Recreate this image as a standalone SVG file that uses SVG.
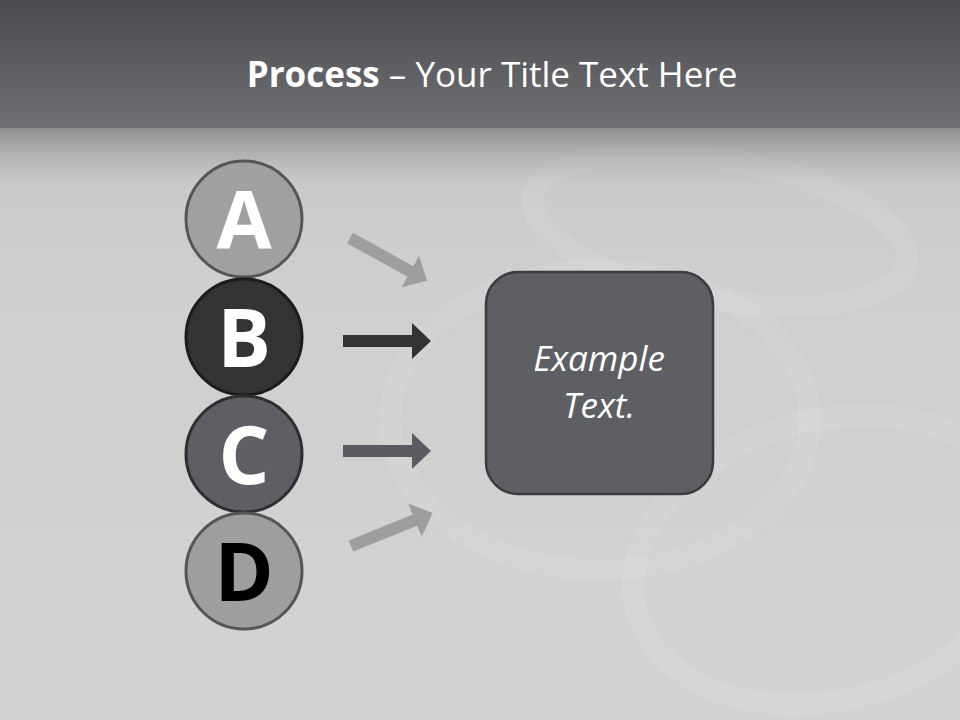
<svg xmlns="http://www.w3.org/2000/svg" width="960" height="720" viewBox="0 0 960 720">
  <defs>
    <linearGradient id="bg" x1="0" y1="0" x2="0" y2="1">
      <stop offset="0" stop-color="#c2c2c3"/>
      <stop offset="0.4" stop-color="#cfcfcf"/>
      <stop offset="1" stop-color="#d3d3d3"/>
    </linearGradient>
    <linearGradient id="hdr" x1="0" y1="0" x2="0" y2="1">
      <stop offset="0" stop-color="#4b4b50"/>
      <stop offset="1" stop-color="#6f7074"/>
    </linearGradient>
    <linearGradient id="fade" x1="0" y1="0" x2="0" y2="1">
      <stop offset="0" stop-color="#8e8e91"/>
      <stop offset="1" stop-color="#cacaca" stop-opacity="0"/>
    </linearGradient>
    <polygon id="arr" points="0,-6 69,-6 69,-18 88,0 69,18 69,6 0,6"/>
  </defs>
  <style>
    .circ { stroke-width: 3; }
    .ltr { font-family: "Open Sans", "Liberation Sans", sans-serif; font-weight: bold; font-size: 80px; text-anchor: middle; }
    .title { font-family: "Open Sans", "Liberation Sans", sans-serif; font-size: 35px; fill: #ffffff; text-anchor: middle; }
    .box-t { font-family: "Open Sans", "Liberation Sans", sans-serif; font-style: italic; font-size: 35px; fill: #ffffff; text-anchor: middle; }
  </style>

  <!-- background -->
  <rect x="0" y="0" width="960" height="720" fill="url(#bg)"/>
  <g fill="none" stroke="#ffffff" stroke-opacity="0.08" stroke-width="22">
    <ellipse cx="720" cy="230" rx="190" ry="70" transform="rotate(10 720 230)"/>
    <ellipse cx="600" cy="420" rx="210" ry="150"/>
    <ellipse cx="830" cy="560" rx="200" ry="140" transform="rotate(-15 830 560)"/>
  </g>
  <rect x="0" y="0" width="960" height="128" fill="url(#hdr)"/>
  <rect x="0" y="128" width="960" height="70" fill="url(#fade)"/>

  <text class="title" x="492" y="87"><tspan font-weight="bold">Process</tspan> – Your Title Text Here</text>

  <!-- connectors -->
  <g id="connectors">
    <use href="#arr" fill="#9e9e9e" transform="translate(350,238) rotate(29)"/>
    <use href="#arr" fill="#333333" transform="translate(343,341)"/>
    <use href="#arr" fill="#5b5c61" transform="translate(343,451)"/>
    <use href="#arr" fill="#9e9e9e" transform="translate(351,546) rotate(-22)"/>
  </g>

  <g id="node-a">
    <circle class="circ" cx="244" cy="219" r="58" fill="#a0a0a0" stroke="#555555"/>
    <text class="ltr" x="244" y="249" fill="#ffffff">A</text>
  </g>
  <g id="node-b">
    <circle class="circ" cx="244" cy="337" r="58" fill="#333333" stroke="#1c1c1c"/>
    <text class="ltr" x="244" y="367" fill="#ffffff">B</text>
  </g>
  <g id="node-c">
    <circle class="circ" cx="244" cy="454" r="58" fill="#5e5f64" stroke="#2e2e30"/>
    <text class="ltr" x="244" y="484" fill="#ffffff">C</text>
  </g>
  <g id="node-d">
    <circle class="circ" cx="244" cy="571" r="58" fill="#9e9e9e" stroke="#555555"/>
    <text class="ltr" x="244" y="601" fill="#000000">D</text>
  </g>

  <g id="node-box">
    <rect x="486" y="272" width="227" height="222" rx="32" fill="#5e5f64" stroke="#3b3b3f" stroke-width="2.5"/>
    <text class="box-t" x="599" y="371">Example</text>
    <text class="box-t" x="599" y="418">Text.</text>
  </g>
</svg>
